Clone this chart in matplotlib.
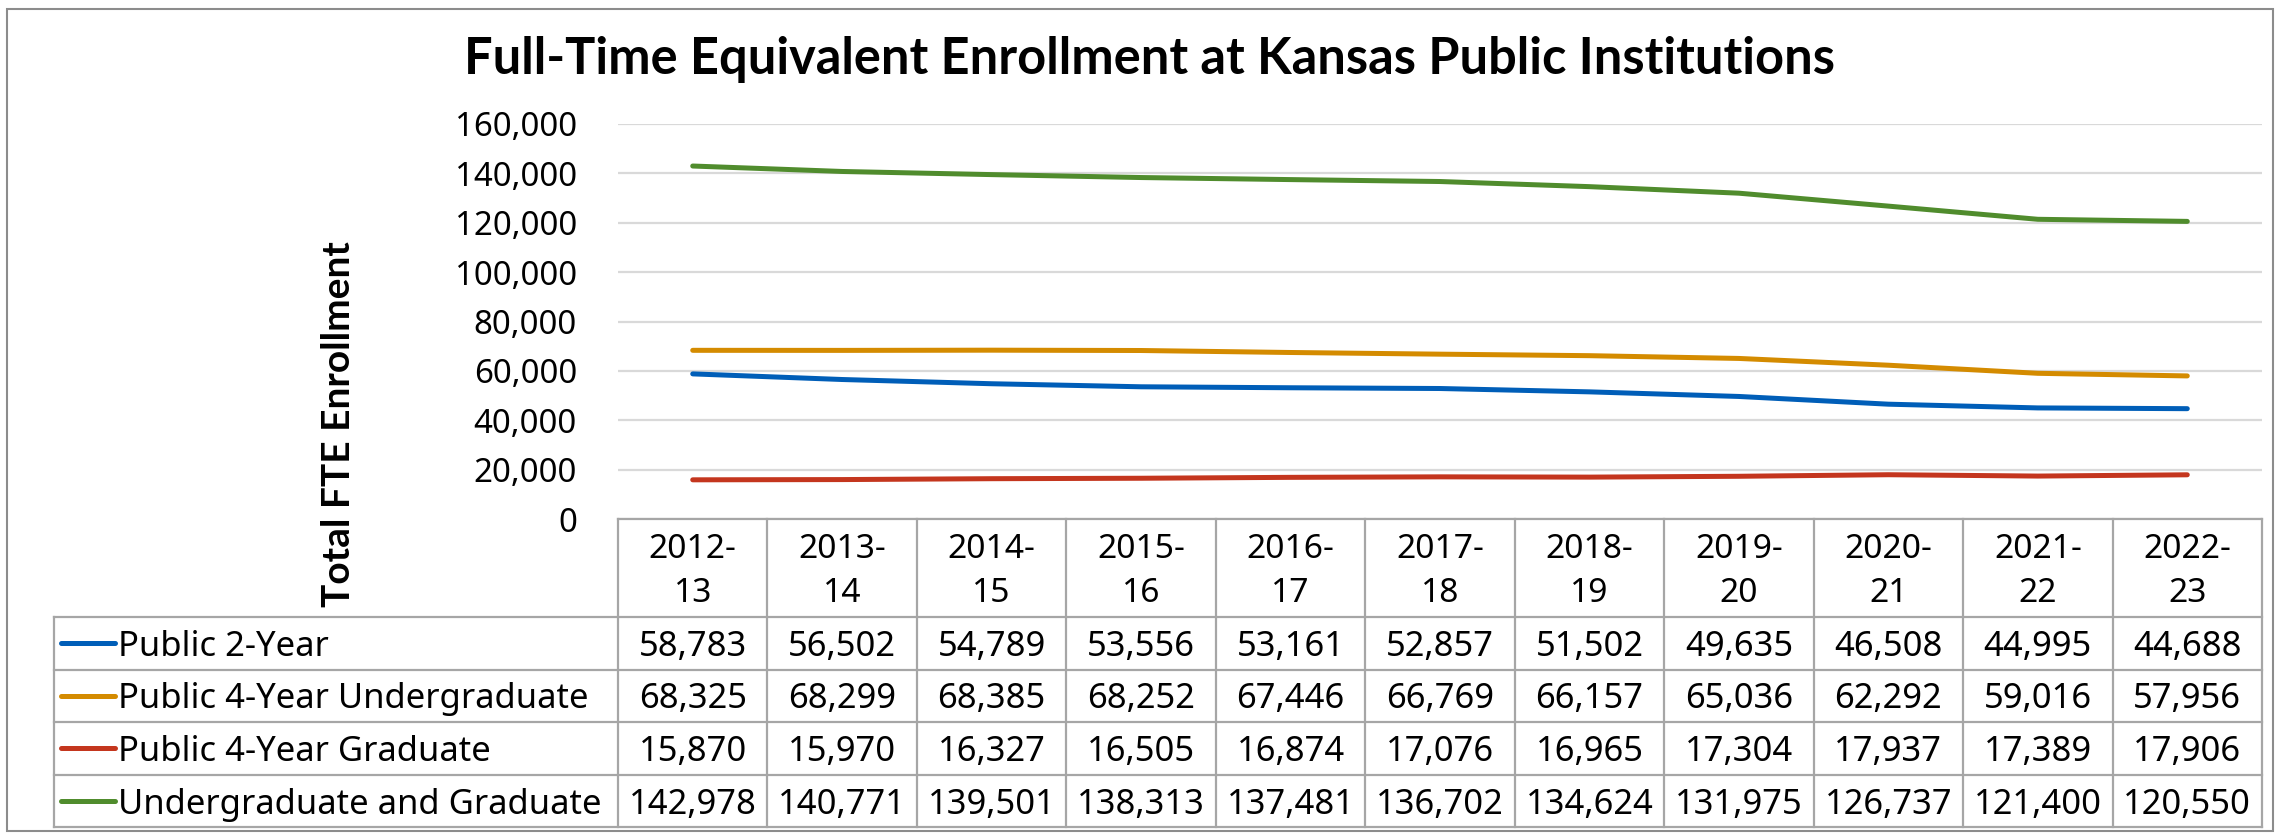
import matplotlib
matplotlib.use("Agg")
import matplotlib.pyplot as plt
from matplotlib.patches import Rectangle
from matplotlib.ticker import FuncFormatter

plt.rcParams['font.family'] = ['Noto Sans', 'DejaVu Sans']
BOLD_FAMILY = ['Lato', 'DejaVu Sans']

# ---------------- data ----------------
years = ['2012-13', '2013-14', '2014-15', '2015-16', '2016-17', '2017-18',
         '2018-19', '2019-20', '2020-21', '2021-22', '2022-23']
series_names = ['Public 2-Year', 'Public 4-Year Undergraduate',
                'Public 4-Year Graduate', 'Undergraduate and Graduate']
public_2yr = [58783, 56502, 54789, 53556, 53161, 52857, 51502, 49635, 46508, 44995, 44688]
public_4yr_ug = [68325, 68299, 68385, 68252, 67446, 66769, 66157, 65036, 62292, 59016, 57956]
public_4yr_grad = [15870, 15970, 16327, 16505, 16874, 17076, 16965, 17304, 17937, 17389, 17906]
ug_and_grad = [142978, 140771, 139501, 138313, 137481, 136702, 134624, 131975, 126737, 121400, 120550]
yticks = [0, 20000, 40000, 60000, 80000, 100000, 120000, 140000, 160000]

series_values = [public_2yr, public_4yr_ug, public_4yr_grad, ug_and_grad]
colors = ['#005EB8', '#D48B00', '#C4361E', '#508C2D']

# ---------------- layout (pixels) ----------------
W, H = 2280, 836
fig = plt.figure(figsize=(W / 100, H / 100), dpi=100)
fig.patch.set_facecolor('white')

def fx(px):
    return px / W

def fy(py):
    return 1 - py / H

PLOT_L, PLOT_R, PLOT_T, PLOT_B = 618, 2262, 124, 519
TABLE_L, TABLE_B = 54, 827
HEADER_H = 98
ROW_H = (TABLE_B - PLOT_B - HEADER_H) / 4
ncol = len(years)
colw = (PLOT_R - PLOT_L) / ncol
xleft = -0.5 - (PLOT_L - TABLE_L) / colw

renderer = fig.canvas.get_renderer()

def size_for(s, target, weight='normal', family=None, base=20):
    kw = dict(fontsize=base, fontweight=weight)
    if family:
        kw['family'] = family
    t = fig.text(0, 0, s, **kw)
    w = t.get_window_extent(renderer).width
    t.remove()
    return base * target / w

fs_title = size_for('Full-Time Equivalent Enrollment at Kansas Public Institutions', 1370, 'bold', BOLD_FAMILY)
fs_ylabel = size_for('Total FTE Enrollment', 366, 'bold', BOLD_FAMILY)
fs_tick = size_for('160,000', 122)
fs_num = size_for('142,978', 128)
fs_head = size_for('2012-', 88)
fs_leg = size_for('Undergraduate and Graduate', 484)

# ---------------- chart axes ----------------
ax = fig.add_axes([fx(PLOT_L), fy(PLOT_B), fx(PLOT_R) - fx(PLOT_L), fy(PLOT_T) - fy(PLOT_B)])
ax.set_xlim(-0.5, ncol - 0.5)
ax.set_ylim(0, 160000)
ax.set_yticks(yticks)
ax.yaxis.set_major_formatter(FuncFormatter(lambda v, p: f'{int(v):,}'))
ax.set_xticks([])
for sp in ax.spines.values():
    sp.set_visible(False)
ax.tick_params(axis='y', length=0, pad=(PLOT_L - 577) * 0.72, labelsize=fs_tick)
ax.yaxis.grid(True, color='#D9D9D9', lw=1.6)
ax.set_axisbelow(True)

xs = list(range(ncol))
for vals, c in zip(series_values, colors):
    ax.plot(xs, vals, color=c, lw=3.6, solid_capstyle='round', solid_joinstyle='round', zorder=3)

# ---------------- data table ----------------
tax = fig.add_axes([fx(TABLE_L), fy(TABLE_B), fx(PLOT_R) - fx(TABLE_L), fy(PLOT_B) - fy(TABLE_B)])
tax.set_xlim(xleft, ncol - 0.5)
tax.set_ylim(HEADER_H + 4 * ROW_H, 0)
tax.axis('off')
gc = '#A6A6A6'
glw = 1.6
for k in range(ncol + 1):
    tax.plot([k - 0.5, k - 0.5], [0, HEADER_H + 4 * ROW_H], color=gc, lw=glw, clip_on=False)
tax.plot([xleft, xleft], [HEADER_H, HEADER_H + 4 * ROW_H], color=gc, lw=glw, clip_on=False)
tax.plot([-0.5, ncol - 0.5], [0, 0], color=gc, lw=glw, clip_on=False)
for r in range(5):
    yy = HEADER_H + r * ROW_H
    tax.plot([xleft, ncol - 0.5], [yy, yy], color=gc, lw=glw, clip_on=False)

for i, yr in enumerate(years):
    a, b = yr.split('-')
    tax.text(i, 558 - PLOT_B, a + '-', ha='center', va='baseline', fontsize=fs_head)
    tax.text(i, 602 - PLOT_B, b, ha='center', va='baseline', fontsize=fs_head)

px2x = 1 / colw
for r, (name, vals, c) in enumerate(zip(series_names, series_values, colors)):
    base = HEADER_H + r * ROW_H
    ymid = base + ROW_H / 2
    ybase = base + 39
    tax.plot([xleft + 7 * px2x, xleft + 61 * px2x], [ymid, ymid], color=c, lw=3.6,
             solid_capstyle='round', clip_on=False)
    tax.text(xleft + 64 * px2x, ybase, name, ha='left', va='baseline', fontsize=fs_leg)
    for i, v in enumerate(vals):
        tax.text(i, ybase, f'{v:,}', ha='center', va='baseline', fontsize=fs_num)

# ---------------- titles ----------------
fig.text(fx(1150), fy(74), 'Full-Time Equivalent Enrollment at Kansas Public Institutions',
         ha='center', va='baseline', fontsize=fs_title, fontweight='bold', family=BOLD_FAMILY)
fig.text(fx(338), fy(424), 'Total FTE Enrollment', rotation=90, ha='center', va='center',
         fontsize=fs_ylabel, fontweight='bold', family=BOLD_FAMILY)

fig.patches.append(Rectangle((fx(7), fy(831)), fx(2273) - fx(7), fy(9) - fy(831),
                             transform=fig.transFigure, fill=False, edgecolor='#8C8C8C', lw=1.5))

fig.savefig('out.png', dpi=100, facecolor='white')
